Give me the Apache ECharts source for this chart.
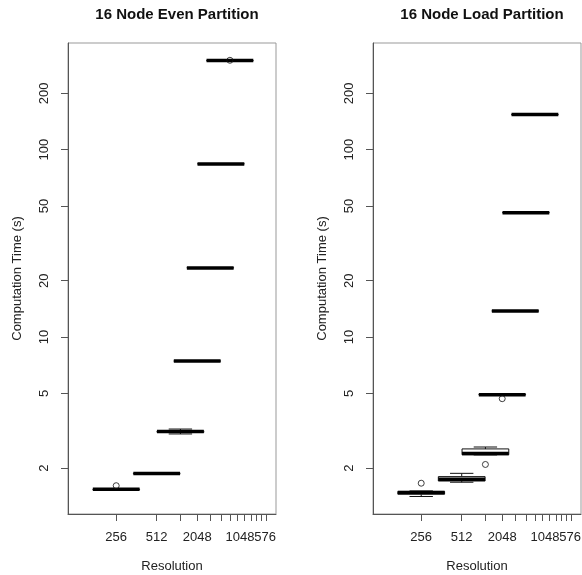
<!DOCTYPE html>
<html><head><meta charset="utf-8">
<script src="https://cdn.jsdelivr.net/npm/echarts@6/dist/echarts.min.js"></script>
<style>html,body{margin:0;padding:0;background:#fff}#c{width:582px;height:575px}</style>
</head><body><div id="c"></div>
<script>
// ---- data ----
const panelTitles = ['16 Node Even Partition', '16 Node Load Partition'];
const resolutionTicks = [1, 2, 3, 4, 5, 6, 7, 8, 9, 10, 11, 12, 13];
const resolutionLabels = ['256', '512', '', '2048', '', '', '', '', '', '1048576', '', '', ''];
const timeTicks = [2, 5, 10, 20, 50, 100, 200];
const boxPositions = [1, 2, 3, 4, 5, 6, 7];

const evenLower  = [1.525, 1.855, 3.04, 7.42, 23.3, 83.7, 297];
const evenQ1     = [1.535, 1.865, 3.10, 7.44, 23.37, 83.9, 298.5];
const evenMedian = [1.54, 1.87, 3.13, 7.45, 23.4, 84.0, 299];
const evenQ3     = [1.545, 1.875, 3.16, 7.46, 23.43, 84.1, 299.5];
const evenUpper  = [1.555, 1.885, 3.23, 7.48, 23.5, 84.3, 301];
const evenOutlierPos = [1, 7];
const evenOutlierVal = [1.61, 300];

const loadLower  = [1.41, 1.68, 2.35, 4.90, 13.7, 45.8, 153.0];
const loadQ1     = [1.45, 1.705, 2.355, 4.91, 13.75, 46.0, 153.6];
const loadMedian = [1.48, 1.745, 2.39, 4.925, 13.78, 46.1, 153.9];
const loadQ3     = [1.50, 1.80, 2.53, 4.94, 13.81, 46.2, 154.2];
const loadUpper  = [1.51, 1.874, 2.59, 4.95, 13.86, 46.4, 154.8];
const loadOutlierPos = [1, 3, 4];
const loadOutlierVal = [1.66, 2.09, 4.69];

// ---- chart ----
const FONT = '"Liberation Sans", Arial, Helvetica, sans-serif';
const AXIS_COLOR = '#555';
const HALF_BOX = 0.4;
const HALF_STAPLE = 0.2;

function zip(pos, a, b, c, d, e) {
  return pos.map((p, i) => [p, a[i], b[i], c[i], d[i], e[i]]);
}

function renderBox(params, api) {
  const k = api.value(0);
  const lo = api.value(1), q1 = api.value(2), med = api.value(3), q3 = api.value(4), hi = api.value(5);
  const xl = api.coord([k * Math.exp(-HALF_BOX), med])[0];
  const xr = api.coord([k * Math.exp(HALF_BOX), med])[0];
  const sl = api.coord([k * Math.exp(-HALF_STAPLE), med])[0];
  const sr = api.coord([k * Math.exp(HALF_STAPLE), med])[0];
  const xc = api.coord([k, med])[0];
  const yLo = api.coord([k, lo])[1], yQ1 = api.coord([k, q1])[1], yMed = api.coord([k, med])[1];
  const yQ3 = api.coord([k, q3])[1], yHi = api.coord([k, hi])[1];
  const thin = { stroke: '#111', lineWidth: 1, fill: null };
  const dashed = { stroke: '#111', lineWidth: 1, lineDash: [3, 3] };
  return {
    type: 'group',
    children: [
      { type: 'line', shape: { x1: xc, y1: yQ3, x2: xc, y2: yHi }, style: dashed },
      { type: 'line', shape: { x1: xc, y1: yQ1, x2: xc, y2: yLo }, style: dashed },
      { type: 'line', shape: { x1: sl, y1: yHi, x2: sr, y2: yHi }, style: thin },
      { type: 'line', shape: { x1: sl, y1: yLo, x2: sr, y2: yLo }, style: thin },
      { type: 'rect', shape: { x: xl, y: yQ3, width: xr - xl, height: yQ1 - yQ3 }, style: { stroke: '#111', lineWidth: 1, fill: '#fff' } },
      { type: 'line', shape: { x1: xl, y1: yMed, x2: xr, y2: yMed }, style: { stroke: '#000', lineWidth: 3.5 } }
    ]
  };
}

function makeX(i) {
  return {
    type: 'log', logBase: Math.E, gridIndex: i,
    min: 0.4382, max: 15.404,
    name: 'Resolution', nameLocation: 'middle', nameGap: 46,
    nameTextStyle: { fontFamily: FONT, fontSize: 13, color: '#222' },
    axisLine: { show: true, lineStyle: { color: AXIS_COLOR, width: 1 } },
    axisTick: { show: true, length: 7, customValues: resolutionTicks, lineStyle: { color: AXIS_COLOR } },
    axisLabel: {
      customValues: resolutionTicks, margin: 17,
      fontFamily: FONT, fontSize: 13, color: '#222',
      formatter: v => resolutionLabels[Math.round(v) - 1] || ''
    },
    splitLine: { show: false }, minorTick: { show: false }
  };
}
function makeY(i) {
  return {
    type: 'log', logBase: 10, gridIndex: i,
    min: 1.137, max: 371,
    name: 'Computation Time (s)', nameLocation: 'middle', nameGap: 44,
    nameTextStyle: { fontFamily: FONT, fontSize: 13, color: '#222' },
    axisLine: { show: true, lineStyle: { color: AXIS_COLOR, width: 1 } },
    axisTick: { show: true, length: 7, customValues: timeTicks, lineStyle: { color: AXIS_COLOR } },
    axisLabel: {
      customValues: timeTicks, margin: 17, rotate: 90,
      fontFamily: FONT, fontSize: 13, color: '#222',
      formatter: v => String(Math.round(v))
    },
    splitLine: { show: false }, minorTick: { show: false }
  };
}

const chart = echarts.init(document.getElementById('c'), null, { renderer: 'canvas' });
chart.setOption({
  animation: false,
  backgroundColor: '#fff',
  title: [
    { text: panelTitles[0], left: 172, top: 2, textAlign: 'center', textStyle: { fontFamily: FONT, fontSize: 15, fontWeight: 'bold', color: '#111' } },
    { text: panelTitles[1], left: 477, top: 2, textAlign: 'center', textStyle: { fontFamily: FONT, fontSize: 15, fontWeight: 'bold', color: '#111' } }
  ],
  grid: [
    { left: 68, top: 43, width: 208, height: 471, outerBoundsMode: 'none', containLabel: false, show: true, borderColor: '#999', borderWidth: 1, backgroundColor: 'transparent' },
    { left: 373, top: 43, width: 208, height: 471, outerBoundsMode: 'none', containLabel: false, show: true, borderColor: '#999', borderWidth: 1, backgroundColor: 'transparent' }
  ],
  xAxis: [makeX(0), makeX(1)],
  yAxis: [makeY(0), makeY(1)],
  series: [
    { type: 'custom', xAxisIndex: 0, yAxisIndex: 0, renderItem: renderBox, encode: { x: 0, y: [1, 2, 3, 4, 5] },
      data: zip(boxPositions, evenLower, evenQ1, evenMedian, evenQ3, evenUpper) },
    { type: 'custom', xAxisIndex: 1, yAxisIndex: 1, renderItem: renderBox, encode: { x: 0, y: [1, 2, 3, 4, 5] },
      data: zip(boxPositions, loadLower, loadQ1, loadMedian, loadQ3, loadUpper) },
    { type: 'scatter', xAxisIndex: 0, yAxisIndex: 0, symbol: 'circle', symbolSize: 6,
      itemStyle: { color: 'rgba(0,0,0,0)', borderColor: '#111', borderWidth: 1 },
      data: evenOutlierPos.map((p, i) => [p, evenOutlierVal[i]]), z: 5 },
    { type: 'scatter', xAxisIndex: 1, yAxisIndex: 1, symbol: 'circle', symbolSize: 6,
      itemStyle: { color: 'rgba(0,0,0,0)', borderColor: '#111', borderWidth: 1 },
      data: loadOutlierPos.map((p, i) => [p, loadOutlierVal[i]]), z: 5 }
  ]
});
</script></body></html>
